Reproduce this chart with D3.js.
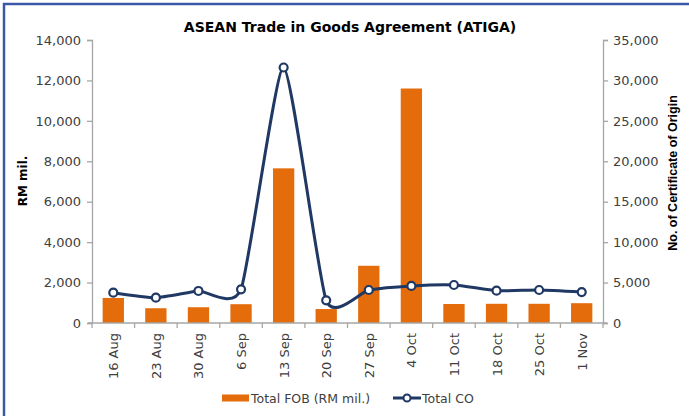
<!DOCTYPE html>
<html>
<head>
<meta charset="utf-8">
<script src="https://cdn.jsdelivr.net/npm/d3@7"></script>
<style>
  body { margin: 0; background: #fff; }
  svg { display: block; font-family: "DejaVu Sans", sans-serif; }
</style>
</head>
<body>
<div id="chart"></div>
<script>
// data
var weeks = ["16 Aug","23 Aug","30 Aug","6 Sep","13 Sep","20 Sep","27 Sep","4 Oct","11 Oct","18 Oct","25 Oct","1 Nov"];
var totalFob = [1240, 730, 780, 930, 7650, 690, 2830, 11600, 940, 950, 950, 980];
var totalCo = [3750, 3130, 3960, 4170, 31600, 2800, 4080, 4580, 4700, 4000, 4080, 3830];
var leftTicks = [0, 2000, 4000, 6000, 8000, 10000, 12000, 14000];
var rightTicks = [0, 5000, 10000, 15000, 20000, 25000, 30000, 35000];

var width = 689, height = 416;
var margin = { top: 40, right: 86, bottom: 93, left: 92 };
var innerW = width - margin.left - margin.right;
var innerH = height - margin.top - margin.bottom;

var svg = d3.select("#chart")
    .append("svg")
    .attr("width", width)
    .attr("height", height);

// frame (cut off on right / bottom like the screenshot)
svg.append("rect")
    .attr("x", 4).attr("y", 4)
    .attr("width", width + 10).attr("height", height + 10)
    .attr("fill", "#fff")
    .attr("stroke", "#3b58a8")
    .attr("stroke-width", 2.5);

var g = svg.append("g")
    .attr("transform", `translate(${margin.left},${margin.top})`);

var x = d3.scaleBand()
    .domain(weeks)
    .range([0, innerW])
    .paddingInner(0.5)
    .paddingOuter(0.25);

var yLeft = d3.scaleLinear().domain([0, 14000]).range([innerH, 0]);
var yRight = d3.scaleLinear().domain([0, 35000]).range([innerH, 0]);

var fmt = d3.format(",");
var axisColor = "#a6a6a6";
var textColor = "#404040";

// bars
g.selectAll(".bar")
    .data(totalFob)
    .join("rect")
    .attr("class", "bar")
    .attr("x", function(d, i){ return x(weeks[i]); })
    .attr("y", function(d){ return yLeft(d); })
    .attr("width", x.bandwidth())
    .attr("height", function(d){ return innerH - yLeft(d); })
    .attr("fill", "#e46c0a");

// axes
var leftAxis = g.append("g")
    .call(d3.axisLeft(yLeft).tickValues(leftTicks).tickFormat(fmt).tickSizeOuter(0).tickSize(5).tickPadding(6));
var rightAxis = g.append("g")
    .attr("transform", `translate(${innerW},0)`)
    .call(d3.axisRight(yRight).tickValues(rightTicks).tickFormat(fmt).tickSizeOuter(0).tickSize(5).tickPadding(5));

// x axis: ticks sit at band boundaries
var step = x.step();
var xAxis = g.append("g").attr("transform", `translate(0,${innerH})`);
xAxis.append("line")
    .attr("x1", -4).attr("x2", innerW + 4)
    .attr("stroke", axisColor).attr("stroke-width", 1.3);
xAxis.selectAll(".xt")
    .data(d3.range(weeks.length + 1))
    .join("line")
    .attr("x1", function(i){ return i * step; })
    .attr("x2", function(i){ return i * step; })
    .attr("y1", 0).attr("y2", 5)
    .attr("stroke", axisColor).attr("stroke-width", 1.3);
xAxis.selectAll(".xl")
    .data(weeks)
    .join("text")
    .attr("transform", function(d){ return `translate(${x(d) + x.bandwidth() / 2 + 5},10) rotate(-90)`; })
    .attr("text-anchor", "end")
    .attr("font-size", 13)
    .attr("fill", textColor)
    .text(function(d){ return d; });

[leftAxis, rightAxis].forEach(function(a){
    a.selectAll("path, line").attr("stroke", axisColor).attr("stroke-width", 1.3);
    a.selectAll("text").attr("font-size", 13).attr("fill", textColor).attr("font-family", "DejaVu Sans");
});

// smoothed CO line (Excel style smoothing, a bit tighter than catmull-rom)
var line = d3.line()
    .x(function(d, i){ return x(weeks[i]) + x.bandwidth() / 2; })
    .y(function(d){ return yRight(d); })
    .curve(d3.curveCardinal.tension(0.45));

g.append("path")
    .datum(totalCo)
    .attr("fill", "none")
    .attr("stroke", "#1f3864")
    .attr("stroke-width", 3)
    .attr("d", line);

g.selectAll(".dot")
    .data(totalCo)
    .join("circle")
    .attr("class", "dot")
    .attr("cx", function(d, i){ return x(weeks[i]) + x.bandwidth() / 2; })
    .attr("cy", function(d){ return yRight(d); })
    .attr("r", 4)
    .attr("fill", "#fff")
    .attr("stroke", "#1f3864")
    .attr("stroke-width", 2.2);

// titles
svg.append("text")
    .attr("x", 350).attr("y", 32)
    .attr("text-anchor", "middle")
    .attr("font-size", 14).attr("font-weight", "bold")
    .attr("fill", "#000")
    .text("ASEAN Trade in Goods Agreement (ATIGA)");

svg.append("text")
    .attr("transform", `translate(27,181) rotate(-90)`)
    .attr("text-anchor", "middle")
    .attr("font-size", 12).attr("font-weight", "bold")
    .text("RM mil.");

svg.append("text")
    .attr("transform", `translate(677,173) rotate(-90)`)
    .attr("text-anchor", "middle")
    .attr("font-family", "Liberation Sans")
    .attr("font-size", 12.5).attr("font-weight", "bold")
    .text("No. of Certificate of Origin");

// legend
var legend = svg.append("g").attr("transform", "translate(222,398)");
legend.append("rect")
    .attr("x", 0).attr("y", -3.5).attr("width", 27).attr("height", 7)
    .attr("fill", "#e46c0a");
legend.append("text")
    .attr("x", 29).attr("y", 5)
    .attr("font-size", 12.5).attr("fill", textColor)
    .text("Total FOB (RM mil.)");
legend.append("line")
    .attr("x1", 171).attr("x2", 199).attr("y1", 0).attr("y2", 0)
    .attr("stroke", "#1f3864").attr("stroke-width", 3);
legend.append("circle")
    .attr("cx", 185).attr("cy", 0).attr("r", 3.5)
    .attr("fill", "#fff").attr("stroke", "#1f3864").attr("stroke-width", 2);
legend.append("text")
    .attr("x", 200).attr("y", 5)
    .attr("font-size", 12.5).attr("fill", textColor)
    .text("Total CO");
</script>
</body>
</html>
